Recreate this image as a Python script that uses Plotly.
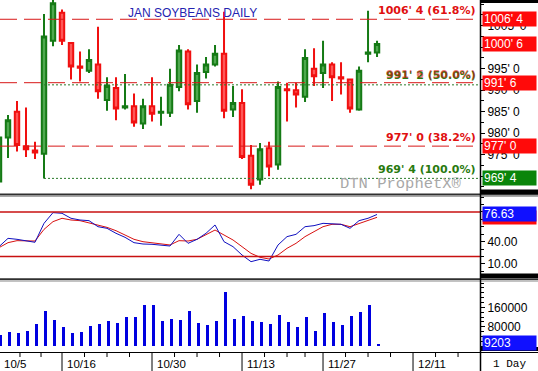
import plotly.graph_objects as go

# ---------------- data ----------------
dates = ["10/5", "10/6", "10/9", "10/10", "10/11", "10/12", "10/13", "10/16", "10/17", "10/18",
         "10/19", "10/20", "10/23", "10/24", "10/25", "10/26", "10/27", "10/30", "10/31", "11/1",
         "11/2", "11/3", "11/6", "11/7", "11/8", "11/9", "11/10", "11/13", "11/14", "11/15",
         "11/16", "11/17", "11/20", "11/21", "11/22", "11/24", "11/27", "11/28", "11/29", "11/30",
         "12/1", "12/4", "12/5"]
opens = [968.75, 979.0, 985.0, 977.0, 976.0, 975.25, 1001.5, 1008.0, 1001.0, 995.5,
         994.5, 996.0, 987.75, 990.5, 986.0, 986.25, 982.25, 986.25, 984.75, 984.75,
         990.75, 999.0, 987.5, 994.25, 996.0, 998.5, 985.5, 987.0, 974.75, 969.25,
         976.5, 972.75, 990.25, 990.0, 988.5, 995.0, 994.0, 996.0, 993.0, 992.5,
         985.5, 998.5, 998.75]
highs = [980.0, 984.25, 987.5, 986.0, 978.0, 1007.75, 1011.5, 1008.75, 1001.0, 999.0,
         999.5, 1004.75, 993.0, 993.0, 993.75, 989.25, 988.0, 993.0, 988.5, 995.0,
         1000.5, 999.5, 996.0, 997.75, 1000.5, 1008.25, 991.0, 990.25, 977.25, 977.75,
         978.0, 992.0, 991.75, 991.75, 999.5, 999.75, 1001.5, 996.5, 996.5, 992.5,
         995.5, 1008.5, 1001.5]
lows = [968.0, 974.25, 975.75, 974.5, 974.0, 969.5, 1000.25, 1000.5, 992.5, 992.0,
        994.0, 988.0, 985.25, 983.0, 985.5, 981.5, 981.0, 982.75, 981.75, 983.75,
        989.75, 985.5, 984.75, 992.75, 995.5, 983.5, 983.75, 974.0, 967.0, 968.0,
        970.0, 971.5, 982.75, 986.0, 987.25, 991.0, 990.5, 987.5, 989.0, 984.75,
        985.25, 996.5, 997.75]
closes = [979.0, 983.0, 977.25, 976.25, 975.5, 1002.5, 1010.25, 1001.5, 995.5, 995.25,
          997.0, 989.75, 991.0, 985.75, 986.25, 982.5, 986.25, 984.5, 985.0, 991.25,
          999.25, 986.75, 994.0, 996.0, 998.5, 985.25, 987.0, 974.5, 968.0, 976.25,
          972.25, 990.75, 990.0, 989.0, 997.5, 993.25, 996.0, 993.0, 992.75, 985.75,
          994.5, 998.75, 1000.75]
volumes = [45800, 58100, 54000, 62300, 91100, 144800, 107600, 78800, 54000, 58100,
           82900, 91100, 103500, 95300, 120000, 120000, 169500, 169500, 103500, 111800,
           107600, 144800, 95300, 87000, 103500, 223100, 111800, 124100, 103500, 99400,
           91100, 128300, 99400, 78800, 120000, 62300, 136500, 99400, 87000, 124100,
           140600, 169500, 9203]
stoch_k = [33.3, 44.5, 43.2, 40.9, 39.2, 64.7, 79.1, 78.2, 71.5, 69.2,
           68.3, 60.2, 58.0, 51.3, 45.9, 38.7, 36.9, 36.5, 35.6, 34.2,
           49.9, 37.8, 43.2, 51.3, 62.5, 40.0, 33.3, 22.1, 13.1, 16.3,
           14.0, 35.6, 46.8, 49.9, 60.2, 61.6, 64.7, 63.8, 63.4, 58.0,
           68.3, 71.5, 76.63]
stoch_d = [32.0, 38.7, 41.4, 40.9, 40.9, 56.6, 67.0, 71.5, 69.2, 68.3,
           65.6, 62.5, 59.3, 54.8, 49.5, 43.2, 40.0, 38.7, 36.9, 35.6,
           41.4, 40.9, 43.2, 49.0, 55.7, 49.0, 42.3, 33.3, 24.3, 19.0,
           16.7, 22.1, 31.1, 37.8, 46.8, 53.5, 60.2, 63.4, 63.4, 60.2,
           64.7, 68.3, 72.8]
x_label_dates = ["10/5", "10/16", "10/30", "11/13", "11/27", "12/11"]
x_label_index = [0, 7, 17, 27, 36, 46]
red_levels = [1006.5, 991.75, 977.0]
red_level_text = ["1006' 4 (61.8%)", "991' 6 (50.0%)", "977' 0 (38.2%)"]
green_levels = [991.25, 969.5]
green_level_text = ["991' 2 (50.0%)", "969' 4 (100.0%)"]
price_ticks = [975, 980, 985, 990, 995, 1000, 1005]
price_tick_text = ["975' 0", "980' 0", "985' 0", "990' 0", "995' 0", "1000' 0", "1005' 0"]
price_boxes = [(1006.5, "1006' 4", "red"), (1000.75, "1000' 6", "red"), (991.75, "991' 6", "red"),
               (977.0, "977' 0", "red"), (969.5, "969' 4", "green")]
last_volume_text = "9203"
last_k_text = "76.63"

# ---------------- layout helpers ----------------
W, H = 538, 371
def px(x):
    return x / W
def py(y):
    return 1 - y / H

XR = [0.111, 53.44]
n = len(dates)
xs = list(range(n))

fig = go.Figure()

fig.add_trace(go.Candlestick(
    x=xs, open=opens, high=highs, low=lows, close=closes,
    xaxis="x", yaxis="y",
    increasing=dict(line=dict(color="#157a15", width=2), fillcolor="#4fa94f"),
    decreasing=dict(line=dict(color="#f01010", width=2), fillcolor="#ff5757"),
    whiskerwidth=0, showlegend=False, hoverinfo="skip"))

fig.add_trace(go.Scatter(x=xs, y=stoch_d, mode="lines", line=dict(color="#d81010", width=1),
                         xaxis="x", yaxis="y2", showlegend=False, hoverinfo="skip"))
fig.add_trace(go.Scatter(x=xs, y=stoch_k, mode="lines", line=dict(color="#1010c0", width=1),
                         xaxis="x", yaxis="y2", showlegend=False, hoverinfo="skip"))

fig.add_trace(go.Bar(x=[v + 0.15 for v in xs], y=volumes, width=0.3, marker=dict(color="#0000e0", line=dict(width=0)),
                     xaxis="x", yaxis="y3", showlegend=False, hoverinfo="skip"))

axis_font = dict(family="Liberation Sans, Arial, sans-serif", size=12, color="black")

fig.update_layout(
    width=W, height=H, autosize=False,
    margin=dict(l=0, r=0, t=0, b=0),
    paper_bgcolor="white", plot_bgcolor="white",
    xaxis=dict(domain=[0, 480 / W], range=XR, anchor="y3", showgrid=False, zeroline=False,
               showticklabels=False, ticks="", showline=False, rangeslider=dict(visible=False), fixedrange=True),
    yaxis=dict(domain=[py(193), 1], range=[966.1, 1010.98], side="right", anchor="x",
               tickvals=price_ticks, ticktext=price_tick_text, ticks="outside", ticklen=4,
               tickcolor="black", showgrid=False, zeroline=False, tickfont=axis_font,
               minor=dict(dtick=2.5, ticks="outside", ticklen=3, tickcolor="black")),
    yaxis2=dict(domain=[py(278), py(196)], range=[-8.86, 101.5], side="right", anchor="x",
                tickvals=[10, 40, 70], ticktext=["10.00", "40.00", "70.00"], ticks="outside", ticklen=4,
                tickcolor="black", showgrid=False, zeroline=False, tickfont=axis_font,
                minor=dict(dtick=10, ticks="outside", ticklen=3, tickcolor="black")),
    yaxis3=dict(domain=[py(352), py(281)], range=[-24330, 268470], side="right", anchor="x",
                tickvals=[80000, 160000], ticktext=["80000", "160000"], ticks="outside", ticklen=4,
                tickcolor="black", showgrid=False, zeroline=False, tickfont=axis_font,
                minor=dict(dtick=20000, ticks="outside", ticklen=3, tickcolor="black")),
    bargap=0,
)

shapes = []
# stochastic 80/20 lines
for lv in [80, 20]:
    shapes.append(dict(type="line", xref="x domain", x0=0, x1=1, yref="y2", y0=lv, y1=lv,
                       line=dict(color="#c81010", width=1.5)))
# red fib lines
for lv in red_levels:
    shapes.append(dict(type="line", xref="x domain", x0=0, x1=1, yref="y", y0=lv, y1=lv,
                       line=dict(color="#d81818", width=1, dash="17px,7px")))
# green lines from the report-day low
for lv in green_levels:
    shapes.append(dict(type="line", xref="x", x0=5, x1=XR[1], yref="y", y0=lv, y1=lv,
                       line=dict(color="#2a7a2a", width=1, dash="2px,2px")))

# panel separators & frame
shapes += [
    dict(type="line", xref="paper", yref="paper", x0=0, x1=1, y0=py(194.5), y1=py(194.5), line=dict(color="#303030", width=2)),
    dict(type="line", xref="paper", yref="paper", x0=0, x1=1, y0=py(196.5), y1=py(196.5), line=dict(color="#a8a8a8", width=1)),
    dict(type="line", xref="paper", yref="paper", x0=0, x1=1, y0=py(279.2), y1=py(279.2), line=dict(color="#303030", width=2)),
    dict(type="line", xref="paper", yref="paper", x0=0, x1=1, y0=py(281.2), y1=py(281.2), line=dict(color="#a8a8a8", width=1)),
    dict(type="line", xref="paper", yref="paper", x0=0, x1=1, y0=py(352.5), y1=py(352.5), line=dict(color="black", width=1)),
    dict(type="line", xref="paper", yref="paper", x0=px(480.5), x1=px(480.5), y0=0, y1=1, line=dict(color="black", width=1.5)),
    dict(type="rect", xref="paper", yref="paper", x0=px(481), x1=1, y0=py(3), y1=1, fillcolor="black", line=dict(width=0)),
    dict(type="rect", xref="paper", yref="paper", x0=px(481), x1=1, y0=py(194), y1=py(189.5), fillcolor="black", line=dict(width=0)),
    dict(type="rect", xref="paper", yref="paper", x0=px(481), x1=1, y0=py(278), y1=py(273.5), fillcolor="black", line=dict(width=0)),
    dict(type="rect", xref="paper", yref="paper", x0=px(481), x1=1, y0=py(351), y1=py(347), fillcolor="black", line=dict(width=0)),
]
# x axis ticks
for xi in x_label_index:
    if xi >= XR[0]:
        shapes.append(dict(type="line", xref="x", yref="paper", x0=xi, x1=xi, y0=0, y1=py(352.5),
                           line=dict(color="black", width=1)))
minor_idx = [2.33, 4.67, 9.5, 12, 14.5, 19.5, 22, 24.5, 29.5, 32, 34, 38.5, 41, 43.5, 48.5, 51]
for xi in minor_idx:
    shapes.append(dict(type="line", xref="x", yref="paper", x0=xi, x1=xi, y0=py(357), y1=py(352.5),
                       line=dict(color="black", width=1)))
fig.update_layout(shapes=shapes)

ann = []
# title
ann.append(dict(text="JAN SOYBEANS DAILY", xref="paper", yref="paper", x=px(192.5), y=py(12.8),
                xanchor="center", yanchor="middle", showarrow=False,
                font=dict(family="Liberation Sans, Arial, sans-serif", size=12, color="#2323b0")))
# watermark
ann.append(dict(text="DTN ProphetX®", xref="paper", yref="paper", x=px(338), y=py(184),
                xanchor="left", yanchor="middle", showarrow=False,
                font=dict(family="Liberation Mono, Courier New, monospace", size=15.5, color="#a8a8a8")))
lvl_font = "DejaVu Sans, Verdana, sans-serif"
# green level labels
for lv, t in zip(green_levels, green_level_text):
    ann.append(dict(text="<b>%s</b>" % t, xref="paper", yref="y", x=px(478), y=lv, xanchor="right",
                    yanchor="bottom", yshift=1 if lv > 980 else 0, showarrow=False,
                    font=dict(family=lvl_font, size=11, color="#2a7a10")))
# red level labels
for lv, t in zip(red_levels, red_level_text):
    ann.append(dict(text="<b>%s</b>" % t, xref="paper", yref="y", x=px(478), y=lv, xanchor="right",
                    yanchor="bottom", yshift=0, showarrow=False, opacity=0.55 if lv < 995 and lv > 980 else 1,
                    font=dict(family=lvl_font, size=11, color="#e01010")))
# right axis boxes (price)
for lv, t, c in price_boxes:
    ann.append(dict(text=t, xref="paper", yref="y", x=px(482), y=lv, xanchor="left", yanchor="middle",
                    showarrow=False, align="left", width=51, height=12, borderpad=1,
                    bgcolor="#ff0a0a" if c == "red" else "#0a850a",
                    font=dict(family="Liberation Sans, Arial, sans-serif", size=12, color="white")))
# stochastic boxes
ann.append(dict(text=" ", xref="paper", yref="y2", x=px(482), y=stoch_d[-1], xanchor="left", yanchor="middle",
                showarrow=False, width=51, height=11, borderpad=1, bgcolor="#ff0a0a",
                font=dict(size=11, color="white")))
ann.append(dict(text=last_k_text, xref="paper", yref="y2", x=px(482), y=stoch_k[-1] + 1.2, xanchor="left", yanchor="middle",
                showarrow=False, align="left", width=51, height=12, borderpad=1, bgcolor="#1010ff",
                font=dict(family="Liberation Sans, Arial, sans-serif", size=12, color="white")))
# volume box
ann.append(dict(text=last_volume_text, xref="paper", yref="y3", x=px(482), y=volumes[-1] + 2000, xanchor="left", yanchor="middle",
                showarrow=False, align="left", width=51, height=12, borderpad=1, bgcolor="#1010ff",
                font=dict(family="Liberation Sans, Arial, sans-serif", size=12, color="white")))
# x labels
for xi, t in zip(x_label_index, x_label_dates):
    if xi >= XR[0]:
        ann.append(dict(text=t, xref="x", yref="paper", x=xi, y=py(363.5), xanchor="left", yanchor="middle",
                        xshift=3, showarrow=False,
                        font=dict(family="Liberation Sans, Arial, sans-serif", size=11.5, color="black")))
    else:
        ann.append(dict(text=t, xref="paper", yref="paper", x=0, y=py(363.5), xanchor="left", yanchor="middle",
                        xshift=2, showarrow=False,
                        font=dict(family="Liberation Sans, Arial, sans-serif", size=11.5, color="black")))
ann.append(dict(text="1 Day", xref="paper", yref="paper", x=px(509), y=py(363.5), xanchor="center", yanchor="middle",
                showarrow=False, font=dict(family="Liberation Mono, Courier New, monospace", size=11, color="black")))
fig.update_layout(annotations=ann)

fig.write_html("out.html", config={"staticPlot": True},
               post_script="document.body.style.margin='0px';document.body.style.overflow='hidden';")
